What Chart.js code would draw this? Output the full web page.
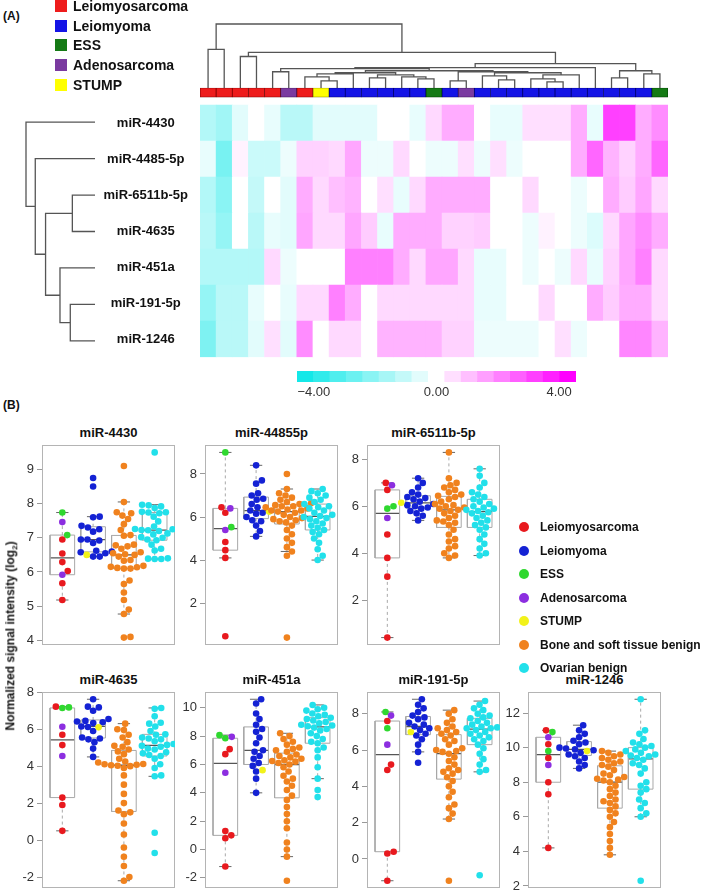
<!DOCTYPE html>
<html>
<head>
<meta charset="utf-8">
<script src="https://cdn.jsdelivr.net/npm/chart.js@4.4.1/dist/chart.umd.min.js"></script>
<style>
body{margin:0;background:#fff;width:709px;height:894px;position:relative;overflow:hidden;font-family:"Liberation Sans",Arial,sans-serif;}
canvas{position:absolute;}
.t{position:absolute;font-weight:bold;color:#111;white-space:nowrap;line-height:1;}
.sq{position:absolute;width:12px;height:12px;}
.dot{position:absolute;width:10px;height:10px;border-radius:50%;}
</style>
</head>
<body>
<script>
// ---------- panel A: heatmap data ----------
const rowNames = ["miR-4430","miR-4485-5p","miR-6511b-5p","miR-4635","miR-451a","miR-191-5p","miR-1246"];
const colClass = ["LMS","LMS","LMS","LMS","LMS","ADS","LMS","STUMP","LM","LM","LM","LM","LM","LM","ESS","LM","ADS",
                  "LM","LM","LM","LM","LM","LM","LM","LM","LM","LM","LM","ESS"];
const heat4430  = [-1.3,-1.6,-0.5,0,-0.4,-1.2,-1.2,-0.5,-0.5,-0.5,-0.5,0,0,-0.4,0.6,1.3,1.3,0,-0.4,-0.4,0.5,0.5,0.5,1.3,-0.4,3.0,3.0,1.3,1.8];
const heat4485  = [-0.4,-2.3,0.2,-0.9,-0.9,-0.3,0.7,0.7,0.6,1.4,-0.3,-0.3,0.6,0,-0.3,-0.3,0.5,-0.3,0.5,-0.3,0,0,0,1.3,2.4,1.2,0.7,1.3,2.4];
const heat6511  = [-1.3,-2.0,0,-1.0,0,-0.5,1.3,0.6,1.0,1.2,0,0.5,-0.4,0.6,1.3,1.3,1.3,1.3,0,0,0.6,0,0,-0.3,0,1.3,0.8,1.4,0.6];
const heat4635  = [-1.2,-1.8,0,-1.2,-0.4,-0.5,1.4,0.6,0.6,1.4,0.8,-0.4,1.3,1.3,1.3,0.7,0.7,0.8,0,0,-0.3,0.2,0,-0.3,-0.6,0.6,1.4,1.8,1.3];
const heat451a  = [-1.3,-1.3,-1.3,-1.3,0.6,-0.3,0,0,0,2.0,2.0,2.0,1.3,0.6,1.4,1.4,0.6,-0.4,-0.4,0,-0.3,0,-0.3,0.6,-0.4,0.7,1.4,2.0,0.6];
const heat191   = [-1.8,-1.2,-1.2,-0.4,0,-0.4,0.6,0.6,2.0,1.3,0,0.6,0.6,0.6,0.6,0.6,0.6,-0.4,-0.4,0,0,0.6,0,0,1.3,0.8,1.3,1.3,0.6];
const heat1246  = [-2.2,-1.2,-1.2,-0.5,0.5,-0.5,1.8,0,0.6,0.6,0,1.2,1.2,1.2,1.2,0.7,0.7,-0.3,-0.3,-0.3,-0.3,0,0.5,-0.3,0,0,1.9,1.9,1.2];
const heatRows = [heat4430, heat4485, heat6511, heat4635, heat451a, heat191, heat1246];
const keyLevels = [-4,-3.5,-3,-2.5,-2,-1.5,-1,-0.5,0,0.5,1,1.5,2,2.5,3,3.5,4];
const keyTicks = [-4, 0, 4];

// dendrograms: [left, right, height]; leaves are column / row indices
const colTree = [[0,1,38],
  [[2,3,31],
   [[[[4,5,16],
      [[[[6,[7,8,7],11],9,14],[[10,11,10],[12,[13,14,9],11],13],15],
       [[15,16,7],[[17,[18,19,8],12],[[20,[21,22,6],9],23,13],15],16],17],19],
     24,20],
    [[25,26,10],[27,28,14],17],24],35],63];
const rowTree = [0,[1,[[2,3,22],[4,[5,6,24],34],48],58],67];

// ---------- panel B: signal intensities ----------
const panelTitles = ["miR-4430","miR-44855p","miR-6511b-5p","miR-4635","miR-451a","miR-191-5p","miR-1246"];
const lms4430 = [6.95,6.54,6.29,6.03,5.67,5.18], ess4430 = [7.74,7.08], ads4430 = [7.46,5.92];
const lm4430 = [8.75,8.5,7.62,7.6,7.35,7.3,7.25,7.18,6.95,6.95,6.92,6.85,6.62,6.6,6.58,6.55,6.45,6.45], stump4430 = [6.5];
const bone4430 = [9.1,8.05,7.75,7.72,7.65,7.55,7.4,7.23,7.08,7.06,6.8,6.78,6.75,6.68,6.58,6.55,6.52,6.5,6.45,6.35,6.33,6.18,6.15,6.14,6.12,6.1,6.1,5.75,5.65,5.4,5.18,4.9,4.77,4.1,4.08];
const ova4430 = [9.5,7.97,7.95,7.92,7.87,7.76,7.75,7.74,7.72,7.62,7.48,7.33,7.26,7.25,7.23,7.22,7.2,7.13,7.1,7.02,7.0,6.95,6.93,6.8,6.68,6.63,6.4,6.39,6.38,6.38];

const lms4485 = [6.45,6.2,4.84,4.46,4.1,0.46], ess4485 = [9.0,5.53], ads4485 = [6.4,5.4];
const lm4485 = [8.4,7.7,7.55,7.1,7.0,6.85,6.8,6.6,6.45,6.3,6.2,6.15,6.0,5.85,5.8,5.6,5.35,5.1], stump4485 = [6.25];
const bone4485 = [8.0,7.3,7.1,7.0,6.9,6.8,6.7,6.65,6.6,6.55,6.5,6.5,6.45,6.4,6.35,6.3,6.3,6.25,6.2,6.1,6.0,5.95,5.9,5.85,5.8,5.75,5.6,5.4,5.2,5.0,4.8,4.6,4.4,4.2,0.4];
const ova4485 = [7.3,7.2,7.1,7.0,6.9,6.8,6.7,6.6,6.5,6.45,6.4,6.3,6.2,6.1,6.05,6.0,5.95,5.9,5.8,5.7,5.6,5.5,5.4,5.3,5.2,5.0,4.8,4.5,4.2,4.0];

const lms6511 = [7.0,6.7,4.8,3.8,3.0,0.4], ess6511 = [6.0,5.9], ads6511 = [6.9,5.5];
const lm6511 = [7.2,7.0,6.8,6.6,6.5,6.4,6.35,6.3,6.2,6.1,6.05,6.0,5.95,5.9,5.8,5.7,5.6,5.4], stump6511 = [6.15];
const bone6511 = [8.3,7.2,7.0,6.9,6.8,6.7,6.6,6.5,6.45,6.4,6.3,6.2,6.1,6.05,6.0,5.95,5.9,5.85,5.8,5.7,5.6,5.5,5.4,5.35,5.3,5.2,5.0,4.8,4.6,4.5,4.3,4.2,4.0,3.9,3.8];
const ova6511 = [7.6,7.3,7.0,6.8,6.6,6.5,6.4,6.3,6.2,6.1,6.0,5.95,5.9,5.85,5.8,5.75,5.7,5.6,5.5,5.4,5.3,5.2,5.1,5.0,4.8,4.6,4.4,4.2,4.0,3.9];

const lms4635 = [7.22,5.7,5.14,2.3,1.9,0.5], ess4635 = [7.18,7.15], ads4635 = [6.13,4.55];
const lm4635 = [7.62,7.22,7.18,7.0,6.55,6.45,6.42,6.38,6.33,6.15,6.12,5.9,5.55,5.5,5.45,5.3,4.95,4.5], stump4635 = [6.1];
const bone4635 = [6.3,6.0,5.95,5.7,5.55,5.3,5.1,5.05,4.9,4.8,4.65,4.4,4.25,4.2,4.12,4.1,4.08,4.05,4.02,4.0,3.9,3.5,3.0,2.5,2.0,1.6,1.5,1.4,0.9,0.3,-0.4,-0.9,-1.4,-2.0,-2.2];
const ova4635 = [7.15,7.1,6.7,6.35,6.3,6.15,5.9,5.72,5.7,5.55,5.5,5.45,5.35,5.2,5.15,5.1,5.05,4.95,4.9,4.75,4.7,4.6,4.55,4.4,4.1,3.9,3.5,3.45,0.4,-0.7];

const lms451 = [7.08,6.73,1.3,1.0,0.8,-1.2], ess451 = [8.07,7.85], ads451 = [7.95,5.42];
const lm451 = [10.6,10.3,9.6,9.2,8.8,8.5,8.3,7.9,7.5,7.0,6.9,6.6,6.4,6.1,5.9,5.5,5.0,4.0], stump451 = [5.6];
const bone451 = [8.2,8.0,7.8,7.6,7.4,7.2,7.1,7.0,6.9,6.7,6.6,6.5,6.4,6.3,6.25,6.2,6.1,6.0,5.8,5.5,5.2,5.0,4.8,4.5,4.2,3.8,3.5,3.0,2.5,2.0,1.5,0.5,0.0,-0.5,-2.2];
const ova451 = [10.2,10.0,9.9,9.8,9.6,9.5,9.4,9.3,9.2,9.1,9.0,8.9,8.8,8.75,8.7,8.6,8.5,8.4,8.2,8.0,7.8,7.6,7.5,7.2,7.0,6.5,5.8,5.0,4.2,3.7];

const lms191 = [7.6,5.2,4.9,0.4,0.3,-1.2], ess191 = [8.1,7.2], ads191 = [7.9,6.3];
const lm191 = [8.8,8.5,8.3,8.1,7.9,7.8,7.7,7.5,7.4,7.3,7.2,7.1,6.9,6.8,6.6,6.3,5.9,5.3], stump191 = [7.0];
const bone191 = [8.2,8.0,7.7,7.5,7.3,7.2,7.1,7.0,6.9,6.8,6.6,6.5,6.3,6.1,6.0,5.95,5.9,5.8,5.6,5.4,5.2,5.0,4.9,4.8,4.7,4.5,4.3,4.0,3.7,3.4,3.0,2.8,2.5,2.2,-1.2];
const ova191 = [8.7,8.5,8.3,8.2,8.0,7.9,7.8,7.75,7.6,7.5,7.4,7.3,7.25,7.2,7.2,7.1,7.0,6.9,6.8,6.7,6.6,6.5,6.3,6.1,5.8,5.5,5.2,4.9,4.8,-0.9];

const lms1246 = [11.0,10.2,9.4,8.0,7.3,4.2], ess1246 = [10.9,9.8], ads1246 = [10.6,9.0];
const lm1246 = [11.3,11.0,10.8,10.6,10.4,10.3,10.2,10.0,9.95,9.9,9.85,9.7,9.6,9.5,9.4,9.2,9.0,8.8], stump1246 = [9.8];
const bone1246 = [9.8,9.7,9.6,9.5,9.4,9.3,9.2,9.1,9.0,8.9,8.7,8.5,8.4,8.3,8.2,8.15,8.1,8.0,7.8,7.6,7.4,7.2,7.0,6.9,6.8,6.6,6.4,6.2,6.0,5.7,5.4,5.0,4.6,4.2,3.8];
const ova1246 = [12.8,11.0,10.8,10.5,10.3,10.2,10.1,10.0,9.9,9.8,9.7,9.6,9.55,9.5,9.4,9.3,9.1,9.0,8.8,8.5,8.0,7.8,7.6,7.4,7.0,6.8,6.5,6.2,6.0,2.3];

const legendB = ["Leiomyosarcoma","Leiomyoma","ESS","Adenosarcoma","STUMP","Bone and soft tissue benign","Ovarian benign"];
const legendA = ["Leiomyosarcoma","Leiomyoma","ESS","Adenosarcoma","STUMP"];

// ---------- styling ----------
const classCol = {LMS:"#ee1c1c", LM:"#1414e6", ESS:"#157a15", ADS:"#7a3aa0", STUMP:"#ffff00"};
const classEdge = {LMS:"#7a0000", LM:"#00006e", ESS:"#003a00", ADS:"#3a1050", STUMP:"#808000"};
const ptCol = {LMS:"#e8191e", LM:"#1422d4", ESS:"#2fd82f", ADS:"#8c2ee0", STUMP:"#f2f21a", BONE:"#f0821e", OVA:"#22e0ea"};

Chart.defaults.font.family = '"Liberation Sans", Arial, Helvetica, sans-serif';
Chart.defaults.animation = false;
Chart.defaults.plugins.legend.display = false;
Chart.defaults.plugins.tooltip.enabled = false;

function mk(left, top, w, h) {
  const c = document.createElement("canvas");
  c.width = w; c.height = h;
  c.style.left = left + "px"; c.style.top = top + "px";
  document.body.appendChild(c);
  return c;
}
function txt(html, left, top, size, style) {
  const d = document.createElement("div");
  d.className = "t";
  d.innerHTML = html;
  d.style.left = left + "px"; d.style.top = top + "px"; d.style.fontSize = size + "px";
  if (style) d.style.cssText += style;
  document.body.appendChild(d);
  return d;
}
function heatColor(v) {
  const t = Math.min(Math.abs(v) / 4, 1);
  const end = v < 0 ? [20, 232, 232] : [255, 0, 255];
  const c = end.map(e => Math.round(255 + (e - 255) * t));
  return "rgb(" + c.join(",") + ")";
}
const frame = (color) => ({
  id: "frame",
  beforeDatasetsDraw(chart) {
    const a = chart.chartArea, ctx = chart.ctx;
    ctx.save(); ctx.strokeStyle = color; ctx.lineWidth = 1;
    ctx.strokeRect(Math.round(a.left) + 0.5, Math.round(a.top) + 0.5, Math.round(a.right - a.left) - 1, Math.round(a.bottom - a.top) - 1);
    ctx.restore();
  }
});

// ---------- dendrogram helper ----------
function dendro(node, segs) {
  if (typeof node === "number") return {pos: node, h: 0};
  const a = dendro(node[0], segs), b = dendro(node[1], segs), h = node[2];
  segs.push([[a.pos, a.h], [a.pos, h], [b.pos, h], [b.pos, b.h]]);
  return {pos: (a.pos + b.pos) / 2, h: h};
}
function dendroData(tree, swap) {
  const segs = []; dendro(tree, segs);
  const out = [];
  segs.forEach(s => {
    s.forEach(p => out.push(swap ? {x: p[1], y: p[0]} : {x: p[0], y: p[1]}));
    out.push(swap ? {x: 0, y: null} : {x: s[3][0], y: null});
  });
  return out;
}

// top dendrogram
new Chart(mk(200, 20, 468, 68), {
  type: "scatter",
  data: {datasets: [{data: dendroData(colTree, false), showLine: true, spanGaps: false, pointRadius: 0,
    borderColor: "#555", borderWidth: 1.3, clip: false}]},
  options: {responsive: false, devicePixelRatio: 1, layout: {padding: {top: 4}},
    scales: {x: {type: "linear", min: -0.5, max: colClass.length - 0.5, display: false},
             y: {type: "linear", min: 0, max: 63, display: false}}}
});

// row dendrogram
new Chart(mk(20, 104, 80, 255), {
  type: "scatter",
  data: {datasets: [{data: dendroData(rowTree, true), showLine: true, spanGaps: false, pointRadius: 0,
    borderColor: "#555", borderWidth: 1.3, clip: false}]},
  options: {responsive: false, devicePixelRatio: 1, layout: {padding: {left: 6, right: 5}},
    scales: {x: {type: "linear", min: 0, max: 67, reverse: true, display: false},
             y: {type: "linear", min: -0.5, max: rowNames.length - 0.5, reverse: true, display: false}}}
});

// heatmap (stacked bars: rows bottom-up, a gap, then the class bar)
const GAP = 0.22, CLASSH = 0.26;
const heatSets = heatRows.slice().reverse().map(r => ({
  data: r.map(() => 1), backgroundColor: r.map(heatColor), borderWidth: 0
}));
heatSets.push({data: colClass.map(() => GAP), backgroundColor: "rgba(0,0,0,0)", borderWidth: 0});
heatSets.push({data: colClass.map(() => CLASSH), backgroundColor: colClass.map(c => classCol[c]),
  borderColor: colClass.map(c => classEdge[c]), borderWidth: 0.8, borderSkipped: false});
new Chart(mk(90, 80, 582, 285), {
  type: "bar",
  data: {labels: colClass.map((c, i) => String(i)), datasets: heatSets},
  options: {responsive: false, devicePixelRatio: 1,
    datasets: {bar: {barPercentage: 1, categoryPercentage: 1}},
    layout: {padding: {top: 7, bottom: 6, right: 4}},
    scales: {
      x: {stacked: true, display: false},
      y: {stacked: true, min: 0, max: rowNames.length + GAP + CLASSH,
        grid: {display: true, drawOnChartArea: false, drawTicks: true, tickLength: 12, color: "rgba(0,0,0,0)"},
        border: {display: false},
        afterFit: s => { s.width = 110; },
        afterBuildTicks: s => { s.ticks = rowNames.map((n, i) => ({value: rowNames.length - 0.5 - i})); },
        ticks: {padding: 0, crossAlign: "center", color: "#111", font: {size: 13, weight: "bold"},
          callback: v => rowNames[Math.round(rowNames.length - 0.5 - v)]}}
    }}
});

// colour key
new Chart(mk(280, 365, 316, 40), {
  type: "bar",
  data: {labels: keyLevels.map(String), datasets: [{data: keyLevels.map(() => 1),
    backgroundColor: keyLevels.map(heatColor), borderWidth: 0, barPercentage: 1, categoryPercentage: 1}]},
  options: {responsive: false, devicePixelRatio: 1, layout: {padding: {left: 17, right: 20, top: 6}},
    scales: {
      x: {display: false},
      y: {display: false, min: 0, max: 1},
      xk: {type: "linear", position: "bottom", min: -4.55, max: 4.55, offset: false,
        grid: {display: false, drawTicks: false, offset: false}, border: {display: false},
        afterFit: s => { s.height = 23; },
        afterBuildTicks: s => { s.ticks = keyTicks.map(v => ({value: v})); },
        ticks: {padding: 3, color: "#333", font: {size: 13},
          callback: v => (v < 0 ? "\u2212" : "") + Math.abs(v).toFixed(2)}}
    }},
  plugins: [frame("#555")]
});

// ---------- panel B: box + beeswarm ----------
const X_MIN = 0.34, X_MAX = 4.66, FRAME_W = 133, PT_R = 3.3;

function fivenum(v) {
  const x = v.slice().sort((a, b) => a - b), n = x.length;
  const n4 = Math.floor((n + 3) / 2) / 2;
  return [1, n4, (n + 1) / 2, n + 1 - n4, n].map(d => 0.5 * (x[Math.floor(d) - 1] + x[Math.ceil(d) - 1]));
}
function boxStats(v) {
  const f = fivenum(v), iqr = f[3] - f[1];
  return {q1: f[1], med: f[2], q3: f[3],
    lo: Math.min(...v.filter(a => a >= f[1] - 1.5 * iqr)),
    hi: Math.max(...v.filter(a => a <= f[3] + 1.5 * iqr))};
}
function swarm(vals, ppy, d) {
  const order = vals.map((v, i) => i).sort((a, b) => vals[a] - vals[b]);
  const placed = [], off = [];
  order.forEach(i => {
    const y = vals[i] * ppy;
    const near = placed.filter(p => Math.abs(p.y - y) < d);
    const cand = [0];
    near.forEach(p => { const dx = Math.sqrt(d * d - (p.y - y) * (p.y - y)); cand.push(p.x + dx, p.x - dx); });
    cand.sort((a, b) => Math.abs(a) - Math.abs(b));
    const x = cand.find(c => near.every(p => Math.hypot(c - p.x, y - p.y) >= d - 0.01));
    off[i] = x; placed.push({x: x, y: y});
  });
  return off;
}

function boxPanel(title, fx, fy, fh, step, lms, ess, ads, lm, stump, bone, ova) {
  const groups = [
    {vals: lms.concat(ess, ads), cols: lms.map(() => ptCol.LMS).concat(ess.map(() => ptCol.ESS), ads.map(() => ptCol.ADS))},
    {vals: lm.concat(stump), cols: lm.map(() => ptCol.LM).concat(stump.map(() => ptCol.STUMP))},
    {vals: bone, cols: bone.map(() => ptCol.BONE)},
    {vals: ova, cols: ova.map(() => ptCol.OVA)}
  ];
  const all = groups.flatMap(g => g.vals);
  const lo = Math.min(...all), hi = Math.max(...all), ext = 0.04 * (hi - lo);
  const ymin = lo - ext, ymax = hi + ext;
  const ppx = FRAME_W / (X_MAX - X_MIN), ppy = fh / (ymax - ymin);
  const pts = [], cols = [], box = [], med = [], whisk = [], caps = [];
  groups.forEach((g, gi) => {
    const cx = gi + 1, bw = 0.4, cw = 0.2;
    const off = swarm(g.vals, ppy, PT_R * 2);
    g.vals.forEach((v, i) => { pts.push({x: cx + off[i] / ppx, y: v}); cols.push(g.cols[i]); });
    const s = boxStats(g.vals);
    box.push({x: cx - bw, y: s.q1}, {x: cx + bw, y: s.q1}, {x: cx + bw, y: s.q3}, {x: cx - bw, y: s.q3}, {x: cx - bw, y: s.q1}, {x: cx, y: null});
    med.push({x: cx - bw, y: s.med}, {x: cx + bw, y: s.med}, {x: cx, y: null});
    whisk.push({x: cx, y: s.q3}, {x: cx, y: s.hi}, {x: cx, y: null}, {x: cx, y: s.q1}, {x: cx, y: s.lo}, {x: cx, y: null});
    caps.push({x: cx - cw, y: s.hi}, {x: cx + cw, y: s.hi}, {x: cx, y: null}, {x: cx - cw, y: s.lo}, {x: cx + cw, y: s.lo}, {x: cx, y: null});
  });
  const line = (data, color, w, dash) => ({data: data, showLine: true, spanGaps: false, pointRadius: 0,
    borderColor: color, borderWidth: w, borderDash: dash || [], order: 2});
  txt(title, fx, fy - 19, 13, "width:" + FRAME_W + "px;text-align:center;");
  new Chart(mk(fx - 40, fy - 14, 40 + FRAME_W + 8, fh + 28), {
    type: "scatter",
    data: {datasets: [
      {data: pts, pointRadius: PT_R, pointHoverRadius: PT_R, pointBackgroundColor: cols, pointBorderWidth: 0, order: 0},
      line(box, "#a8a8a8", 1),
      line(med, "#555", 1.3),
      line(whisk, "#a8a8a8", 1, [3, 3]),
      line(caps, "#666", 1)
    ]},
    options: {responsive: false, devicePixelRatio: 1, layout: {padding: {top: 14, bottom: 14, right: 8}},
      scales: {
        x: {type: "linear", min: X_MIN, max: X_MAX, display: false},
        y: {type: "linear", min: ymin, max: ymax,
          afterFit: s => { s.width = 40; },
          afterBuildTicks: s => {
            const t = [];
            for (let v = Math.ceil(ymin / step) * step; v <= ymax; v += step) t.push({value: v});
            s.ticks = t;
          },
          grid: {drawOnChartArea: false, tickLength: 5, color: "#999"}, border: {display: false},
          ticks: {padding: 3, color: "#333", font: {size: 13}}}
      }},
    plugins: [frame("#b4b4b4")]
  });
}

const colsX = [42, 205, 367, 528];
boxPanel(panelTitles[0], colsX[0], 445, 200, 1, lms4430, ess4430, ads4430, lm4430, stump4430, bone4430, ova4430);
boxPanel(panelTitles[1], colsX[1], 445, 200, 2, lms4485, ess4485, ads4485, lm4485, stump4485, bone4485, ova4485);
boxPanel(panelTitles[2], colsX[2], 445, 200, 2, lms6511, ess6511, ads6511, lm6511, stump6511, bone6511, ova6511);
boxPanel(panelTitles[3], colsX[0], 692, 196, 2, lms4635, ess4635, ads4635, lm4635, stump4635, bone4635, ova4635);
boxPanel(panelTitles[4], colsX[1], 692, 196, 2, lms451, ess451, ads451, lm451, stump451, bone451, ova451);
boxPanel(panelTitles[5], colsX[2], 692, 196, 2, lms191, ess191, ads191, lm191, stump191, bone191, ova191);
boxPanel(panelTitles[6], colsX[3], 692, 196, 2, lms1246, ess1246, ads1246, lm1246, stump1246, bone1246, ova1246);

// ---------- texts and legends ----------
txt("(A)", 3, 10, 12);
txt("(B)", 3, 399, 12);
const legACols = [classCol.LMS, classCol.LM, classCol.ESS, classCol.ADS, classCol.STUMP];
legendA.forEach((n, i) => {
  const y = 6 + i * 19.7;
  const s = document.createElement("div"); s.className = "sq";
  s.style.left = "55px"; s.style.top = (y - 6) + "px"; s.style.background = legACols[i];
  document.body.appendChild(s);
  txt(n, 73, y - 7, 14);
});
const legBCols = [ptCol.LMS, ptCol.LM, ptCol.ESS, ptCol.ADS, ptCol.STUMP, ptCol.BONE, ptCol.OVA];
legendB.forEach((n, i) => {
  const y = 527 + i * 23.5;
  const s = document.createElement("div"); s.className = "dot";
  s.style.left = "519px"; s.style.top = (y - 5) + "px"; s.style.background = legBCols[i];
  document.body.appendChild(s);
  txt(n, 540, y - 6, 12);
});
txt("Normalized signal intensity (log<sub style='font-size:8px'>2</sub>)", 12, 636, 12,
  "transform:translate(-50%,-50%) rotate(-90deg);");
</script>
</body>
</html>
